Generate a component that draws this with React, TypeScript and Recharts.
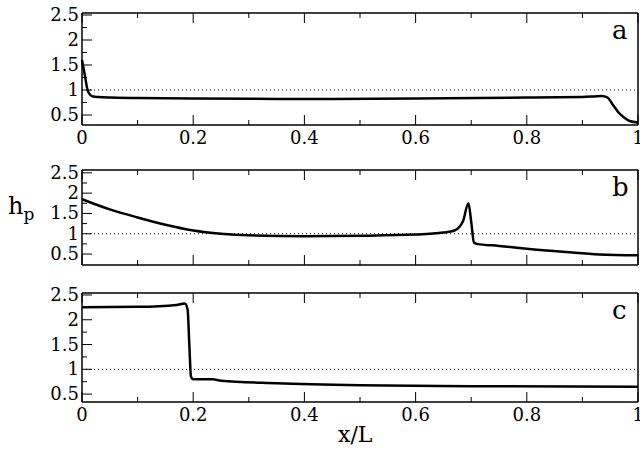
import React from "react";
import { LineChart, Line, XAxis, YAxis, ReferenceLine } from "recharts";

const xTicks = [0, 0.1, 0.2, 0.3, 0.4, 0.5, 0.6, 0.7, 0.8, 0.9, 1];
const yTicks = [0.5, 0.75, 1, 1.25, 1.5, 1.75, 2, 2.25, 2.5];

const xA = [0, 0.005, 0.01, 0.015, 0.02, 0.03, 0.05, 0.1, 0.2, 0.4, 0.6, 0.8, 0.9, 0.92, 0.935, 0.945, 0.955, 0.965, 0.975, 0.985, 1.0];
const yA = [1.6, 1.3, 1.0, 0.9, 0.87, 0.86, 0.85, 0.84, 0.83, 0.82, 0.83, 0.85, 0.86, 0.87, 0.88, 0.85, 0.7, 0.55, 0.45, 0.38, 0.35];

const xB = [0, 0.05, 0.1, 0.15, 0.2, 0.25, 0.3, 0.4, 0.5, 0.6, 0.65, 0.67, 0.685, 0.695, 0.7, 0.705, 0.71, 0.75, 0.8, 0.87, 0.93, 1];
const yB = [1.85, 1.6, 1.4, 1.22, 1.08, 1.0, 0.96, 0.94, 0.95, 0.98, 1.03, 1.08, 1.3, 1.75, 1.3, 0.78, 0.75, 0.7, 0.63, 0.55, 0.49, 0.47];

const xC = [0, 0.1, 0.17, 0.185, 0.19, 0.193, 0.196, 0.2, 0.235, 0.25, 0.35, 0.5, 0.7, 1];
const yC = [2.25, 2.26, 2.3, 2.33, 2.2, 1.5, 0.85, 0.8, 0.8, 0.77, 0.72, 0.68, 0.66, 0.65];

const font = "'DejaVu Serif', 'Liberation Serif', serif";
const isMajor = (v: number, step: number) => Math.abs(v / step - Math.round(v / step)) < 1e-6;

function makeTick(side: "bottom" | "top" | "left" | "right", labels: boolean) {
  return (p: any) => {
    const { x, y, payload } = p;
    const v = payload.value;
    const step = side === "bottom" || side === "top" ? 0.2 : 0.5;
    const major = isMajor(v, step);
    const len = major ? 10 : 5;
    let line;
    if (side === "bottom") line = <line x1={x} x2={x} y1={y} y2={y - len} stroke="#000" />;
    else if (side === "top") line = <line x1={x} x2={x} y1={y} y2={y + len} stroke="#000" />;
    else if (side === "left") line = <line x1={x} x2={x + len} y1={y} y2={y} stroke="#000" />;
    else line = <line x1={x} x2={x - len} y1={y} y2={y} stroke="#000" />;
    let text = null;
    if (labels && major) {
      const label = String(Math.round(v * 10) / 10);
      if (side === "bottom")
        text = <text x={x} y={y + 19} textAnchor="middle" fontSize={18} style={{ fontFamily: font }}>{label}</text>;
      else if (side === "left")
        text = <text x={x - 3} y={y + 6} textAnchor="end" fontSize={18} style={{ fontFamily: font }}>{label}</text>;
    }
    return <g>{line}{text}</g>;
  };
}

function Panel({ xs, ys, top, height, mt, mb, yMin, yMax, xLabels, letter }: any) {
  const data = xs.map((x: number, i: number) => ({ x, y: ys[i] }));
  const axisLine = { stroke: "#000", strokeWidth: 1.5 };
  return (
    <div style={{ position: "absolute", left: 0, top }}>
      <LineChart width={640} height={height} data={data} margin={{ top: mt - 1, bottom: mb - 1, left: 81, right: 1 }}>
        <XAxis xAxisId="b" dataKey="x" type="number" domain={[0, 1]} ticks={xTicks} interval={0}
          orientation="bottom" height={1} tickSize={0} tickMargin={0} tickLine={false}
          axisLine={axisLine} tick={makeTick("bottom", xLabels)} />
        <XAxis xAxisId="t" dataKey="x" type="number" domain={[0, 1]} ticks={xTicks} interval={0}
          orientation="top" height={1} tickSize={0} tickMargin={0} tickLine={false}
          axisLine={axisLine} tick={makeTick("top", false)} />
        <YAxis yAxisId="l" type="number" domain={[yMin, yMax]} ticks={yTicks} interval={0} width={1}
          tickSize={0} tickMargin={0} tickLine={false} axisLine={axisLine}
          tick={makeTick("left", true)} />
        <YAxis yAxisId="r" orientation="right" type="number" domain={[yMin, yMax]} ticks={yTicks} interval={0} width={1}
          tickSize={0} tickMargin={0} tickLine={false} axisLine={axisLine}
          tick={makeTick("right", false)} />
        <ReferenceLine xAxisId="b" yAxisId="l" y={1} stroke="#000" strokeDasharray="1 3" />
        <Line xAxisId="b" yAxisId="l" dataKey="y" type="monotone" stroke="#000" strokeWidth={2.5}
          dot={false} isAnimationActive={false} />
      </LineChart>
      <div style={{ position: "absolute", left: 612, top: mt + 2, fontFamily: font, fontSize: 26 }}>{letter}</div>
    </div>
  );
}

export default function App() {
  return (
    <div style={{ position: "absolute", left: 0, top: 0, width: 640, height: 457, background: "#fff" }}>
      <Panel xs={xA} ys={yA} top={0} height={150} mt={13} mb={25} yMin={0.3} yMax={2.54} xLabels letter="a" />
      <Panel xs={xB} ys={yB} top={150} height={125} mt={20} mb={10} yMin={0.23} yMax={2.57} xLabels={false} letter="b" />
      <Panel xs={xC} ys={yC} top={275} height={160} mt={18} mb={33} yMin={0.34} yMax={2.54} xLabels letter="c" />
      <div style={{ position: "absolute", left: 8, top: 192, fontFamily: font, fontSize: 24 }}>
        h<sub style={{ fontSize: 17 }}>p</sub>
      </div>
      <div style={{ position: "absolute", left: 338, top: 422, fontFamily: font, fontSize: 22 }}>x/L</div>
    </div>
  );
}
